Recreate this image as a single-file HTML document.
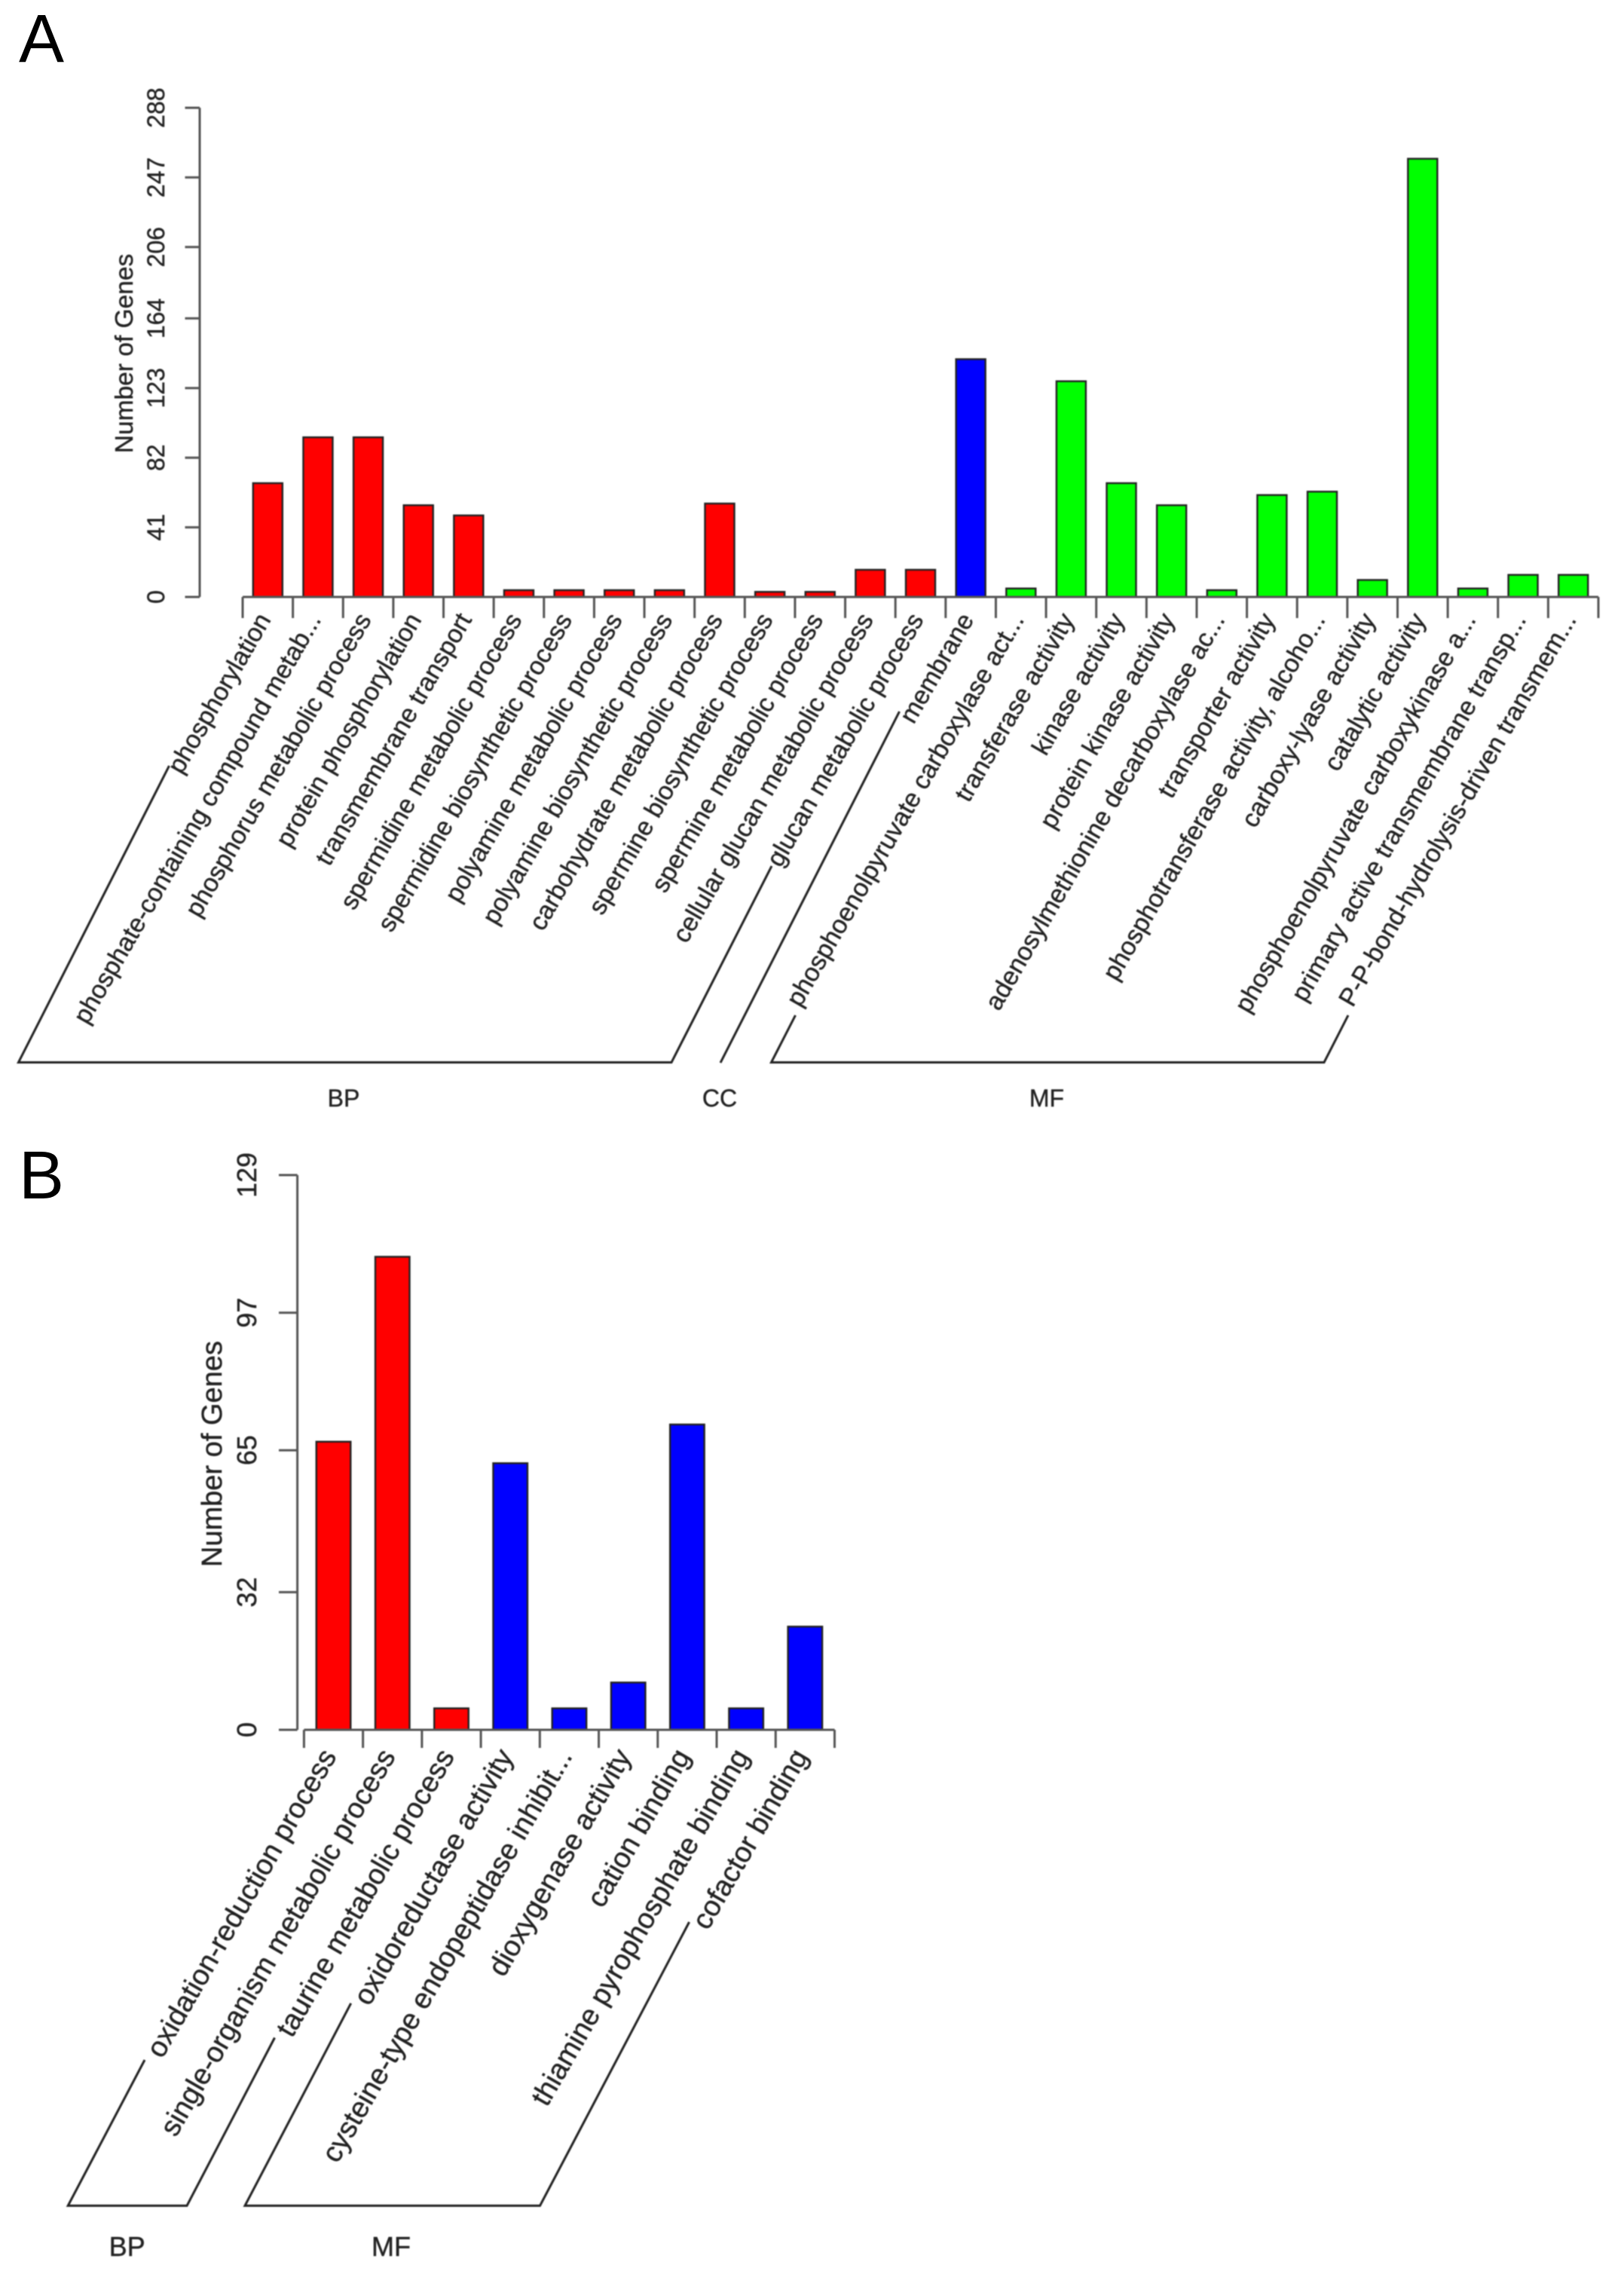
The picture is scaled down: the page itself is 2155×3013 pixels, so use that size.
<!DOCTYPE html>
<html lang="en">
<head>
<meta charset="utf-8">
<title>GO enrichment bar charts</title>
<style>
html,body{margin:0;padding:0;background:#fff;}
body{width:2155px;height:3013px;overflow:hidden;}
svg{display:block;font-family:"Liberation Sans",Arial,sans-serif;}
.soft{filter:blur(0.9px);}
.bracket{fill:none;stroke:#222;stroke-width:3;stroke-linejoin:miter;}
.group-label{fill:#222;stroke:#222;stroke-width:.4;text-anchor:middle;}
.panel-letter{fill:#000;font-size:90px;}
</style>
</head>
<body>
<svg id="figure" xmlns="http://www.w3.org/2000/svg" width="2155" height="3013" viewBox="0 0 2155 3013">
  <rect x="0" y="0" width="2155" height="3013" fill="#fff"/>
  <text class="panel-letter" x="25" y="82">A</text>
  <text class="panel-letter" x="25" y="1590">B</text>
  <g class="soft" id="panelA">
    <polyline class="bracket" points="224.5,1016 24.5,1409.5 891,1409.5 1024,1149"/>
    <polyline class="bracket" points="956,1410 1193.5,944"/>
    <polyline class="bracket" points="1055.5,1347 1023.5,1409.5 1757,1409.5 1789,1347"/>
    <text class="group-label" x="456" y="1468" font-size="32">BP</text>
    <text class="group-label" x="955" y="1468" font-size="32">CC</text>
    <text class="group-label" x="1389" y="1468" font-size="32">MF</text>
  </g>
  <g class="soft" id="panelB">
    <polyline class="bracket" points="192,2733 90.2,2926.4 248,2926.4 364.5,2703.5"/>
    <polyline class="bracket" points="465.7,2657.8 325,2926.4 716.5,2926.4 914.6,2550"/>
    <text class="group-label" x="168.7" y="2993" font-size="36">BP</text>
    <text class="group-label" x="519" y="2993" font-size="36">MF</text>
  </g>
</svg>
<script>
var categoriesA = ["phosphorylation","phosphate-containing compound metab...","phosphorus metabolic process","protein phosphorylation","transmembrane transport","spermidine metabolic process","spermidine biosynthetic process","polyamine metabolic process","polyamine biosynthetic process","carbohydrate metabolic process","spermine biosynthetic process","spermine metabolic process","cellular glucan metabolic process","glucan metabolic process","membrane","phosphoenolpyruvate carboxylase act...","transferase activity","kinase activity","protein kinase activity","adenosylmethionine decarboxylase ac...","transporter activity","phosphotransferase activity, alcoho...","carboxy-lyase activity","catalytic activity","phosphoenolpyruvate carboxykinase a...","primary active transmembrane transp...","P-P-bond-hydrolysis-driven transmem..."];
var valuesA = [67,94,94,54,48,4,4,4,4,55,3,3,16,16,140,5,127,67,54,4,60,62,10,258,5,13,13];
var groupsA = ["BP","BP","BP","BP","BP","BP","BP","BP","BP","BP","BP","BP","BP","BP","CC","MF","MF","MF","MF","MF","MF","MF","MF","MF","MF","MF","MF"];
var yTicksA = [0,41,82,123,164,206,247,288];

var categoriesB = ["oxidation-reduction process","single-organism metabolic process","taurine metabolic process","oxidoreductase activity","cysteine-type endopeptidase inhibit...","dioxygenase activity","cation binding","thiamine pyrophosphate binding","cofactor binding"];
var valuesB = [67,110,5,62,5,11,71,5,24];
var groupsB = ["BP","BP","BP","MF","MF","MF","MF","MF","MF"];
var yTicksB = [0,32,65,97,129];

var colorsA = {BP:"#ff0000",CC:"#0000ff",MF:"#00ff00"};
var colorsB = {BP:"#ff0000",MF:"#0000ff"};

var SVGNS = "http://www.w3.org/2000/svg";

function drawChart(parent, cfg) {
  function yScale(v) { return cfg.y0 - (v / cfg.yMax) * (cfg.y0 - cfg.yTop); }
  function xLeft(i) { return cfg.x0 + i * cfg.step; }
  function xCenter(i) { return cfg.x0 + (i + 0.5) * cfg.step; }

  function make(tag, attrs) {
    var el = document.createElementNS(SVGNS, tag);
    for (var k in attrs) { el.setAttribute(k, attrs[k]); }
    parent.appendChild(el);
    return el;
  }

  var yAxis = make("line", {x1:cfg.yAxisX, x2:cfg.yAxisX, y1:yScale(0), y2:yScale(cfg.yMax), stroke:"#555", "stroke-width":3});
  
  

  cfg.yTicks.forEach(function (t) {
    var y = yScale(t);
    var tick = make("line", {x1:cfg.yTickX, x2:cfg.yAxisX, y1:y, y2:y, stroke:"#555", "stroke-width":3});
    
    
    var lab = make("text", {transform:"translate(" + cfg.yLabelX + "," + y + ") rotate(-90)", "text-anchor":"middle", "font-size":cfg.tickFont, fill:"#222", stroke:"#222", "stroke-width":0.4});
    
    
    lab.textContent = String(t);
  });

  var title = make("text", {transform:"translate(" + cfg.titleX + "," + cfg.titleY + ") rotate(-90)", "text-anchor":"middle", "font-size":cfg.titleFont, fill:"#222", stroke:"#222", "stroke-width":0.4});
  
  
  title.textContent = "Number of Genes";

  cfg.values.forEach(function (v, i) {
    var top = yScale(v);
    var bar = make("rect", {x:xCenter(i) - cfg.barW / 2, y:top, width:cfg.barW, height:yScale(0) - top, fill:cfg.colors[cfg.groups[i]], stroke:"#222", "stroke-width":2.4});
    
    
  });

  var xAxis = make("line", {x1:xLeft(0), x2:xLeft(cfg.values.length), y1:yScale(0), y2:yScale(0), stroke:"#555", "stroke-width":3});
  
  

  for (var j = 0; j <= cfg.values.length; j++) {
    var xt = make("line", {x1:xLeft(j), x2:xLeft(j), y1:yScale(0), y2:yScale(0) + cfg.xTickLen, stroke:"#555", "stroke-width":3});
    
    
  }

  cfg.categories.forEach(function (c, i) {
    var lx = xCenter(i) + cfg.labelDx;
    var ly = cfg.labelY;
    var t = make("text", {transform:"translate(" + lx + "," + ly + ") rotate(" + cfg.labelAngle + ")", "text-anchor":"end", "font-size":cfg.labelFont, fill:"#222", stroke:"#222", "stroke-width":0.4});
    
    
    t.textContent = c;
  });
}

drawChart(document.getElementById("panelA"), {
  categories: categoriesA, values: valuesA, groups: groupsA, colors: colorsA, yTicks: yTicksA,
  yMax: 288, y0: 792, yTop: 143, x0: 322, step: 66.63, barW: 39,
  yAxisX: 265, yTickX: 245.5, yLabelX: 218, tickFont: 32,
  titleX: 176, titleY: 469, titleFont: 33.5,
  xTickLen: 28, labelDx: 5, labelY: 822, labelAngle: -60, labelFont: 33.8
});

drawChart(document.getElementById("panelB"), {
  categories: categoriesB, values: valuesB, groups: groupsB, colors: colorsB, yTicks: yTicksB,
  yMax: 129, y0: 2295, yTop: 1559, x0: 403.4, step: 78.23, barW: 45.5,
  yAxisX: 394.6, yTickX: 370, yLabelX: 340, tickFont: 36,
  titleX: 294, titleY: 1929, titleFont: 38,
  xTickLen: 24, labelDx: 5, labelY: 2330, labelAngle: -60, labelFont: 38
});
</script>
</body>
</html>
